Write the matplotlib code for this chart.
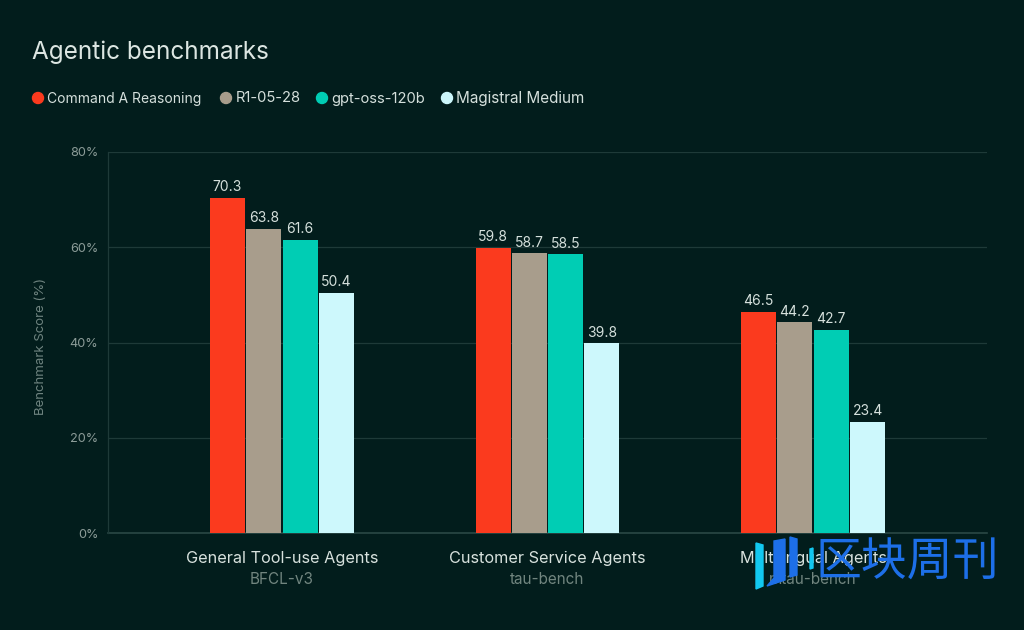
import numpy as np
import matplotlib.pyplot as plt
from matplotlib.patches import Polygon

plt.rcParams['font.family'] = ['Inter', 'DejaVu Sans']

groups = ['General Tool-use Agents', 'Customer Service Agents', 'Multilingual Agents']
subgroups = ['BFCL-v3', 'tau-bench', 'mtau-bench']
models = ['Command A Reasoning', 'R1-05-28', 'gpt-oss-120b', 'Magistral Medium']
colors = ['#FB3A1E', '#A89D8C', '#00CDB4', '#CDF8FC']
command_a = [70.3, 59.8, 46.5]
r1 = [63.8, 58.7, 44.2]
gpt_oss = [61.6, 58.5, 42.7]
magistral = [50.4, 39.8, 23.4]
yticks = [0, 20, 40, 60, 80]

series = [command_a, r1, gpt_oss, magistral]
bg = '#021D1C'
W, H = 1024, 630

fig = plt.figure(figsize=(W/100, H/100), dpi=100, facecolor=bg)
ax = fig.add_axes([108/W, 1-533/H, (987-108)/W, (533-152)/H], facecolor=bg)

step = 0.1367
for i, vals in enumerate(series):
    xs = np.arange(3) + (i-1.5)*step
    ax.bar(xs, vals, width=0.132, color=colors[i], zorder=3)
    for x, v in zip(xs, vals):
        ax.text(x, v+0.8, f'{v:.1f}', ha='center', va='bottom', color='#D5E0DC', fontsize=10, zorder=4)

ax.set_xlim(-0.655, 2.655)
ax.set_ylim(0, 80)
ax.set_yticks(yticks)
ax.set_yticklabels([f'{t}%' for t in yticks], color='#8C9C98', fontsize=9.2)
ax.set_xticks([])
ax.tick_params(axis='y', length=0, pad=7)
ax.grid(axis='y', color='#1E3A38', lw=0.9, zorder=0)
for s in ['top', 'right', 'bottom']:
    ax.spines[s].set_visible(False)
ax.spines['left'].set_color('#1E3A38')
ax.spines['left'].set_linewidth(0.9)
ax.axhline(0, color='#2A4845', lw=1.2, zorder=2, clip_on=False)
ax.set_ylabel('Benchmark Score (%)', color='#6F8480', fontsize=9.5)
ax.yaxis.set_label_coords((47-108)/(987-108), 0.49)

trans = ax.get_xaxis_transform()
for i in range(3):
    ax.text(i, -(559-533)/381, groups[i], transform=trans, ha='center', va='center', color='#D8E2DE', fontsize=11.7, clip_on=False)
    ax.text(i, -(580-533)/381, subgroups[i], transform=trans, ha='center', va='center', color='#71857F', fontsize=11, clip_on=False)

fig.text(32/W, 1-52/H, 'Agentic benchmarks', color='#DCE6E2', fontsize=17.5, ha='left', va='center')

# legend drawn by hand to get the uneven spacing
dot_x = [38, 226, 322, 447]
txt_x = [47, 236, 331, 456]
txt_size = [10, 10.6, 10.6, 11]
for dx, tx, fs, c, m in zip(dot_x, txt_x, txt_size, colors, models):
    fig.patches.append(plt.Circle((dx, H-98), 5.5, color=c, transform=None))
    fig.text(tx/W, 1-98.5/H, m, color='#D5E0DC', fontsize=fs, ha='left', va='center')

# watermark
wm = '#1D6FE8'
cy = '#12C8F0'
def px(pts):
    return [(x, H-y) for x, y in pts]
fig.patches.append(Polygon(px([(756, 543), (763, 545), (763, 586), (756, 589)]), color=cy, transform=None))
fig.patches.append(Polygon(px([(774, 541), (785, 539), (785, 580), (767, 586), (774, 578)]), color=wm, transform=None))
fig.patches.append(Polygon(px([(790, 537), (797, 539), (797, 575), (790, 577)]), color=wm, transform=None))
fig.patches.append(Polygon(px([(810, 549), (813, 548), (813, 568), (810, 569)]), color=cy, transform=None))
fig.text(907/W, 1-562/H, '区块周刊', color=wm, fontsize=33, ha='center', va='center', family=['Noto Sans CJK SC', 'DejaVu Sans'])

fig.savefig('out.png', dpi=100, facecolor=bg)
